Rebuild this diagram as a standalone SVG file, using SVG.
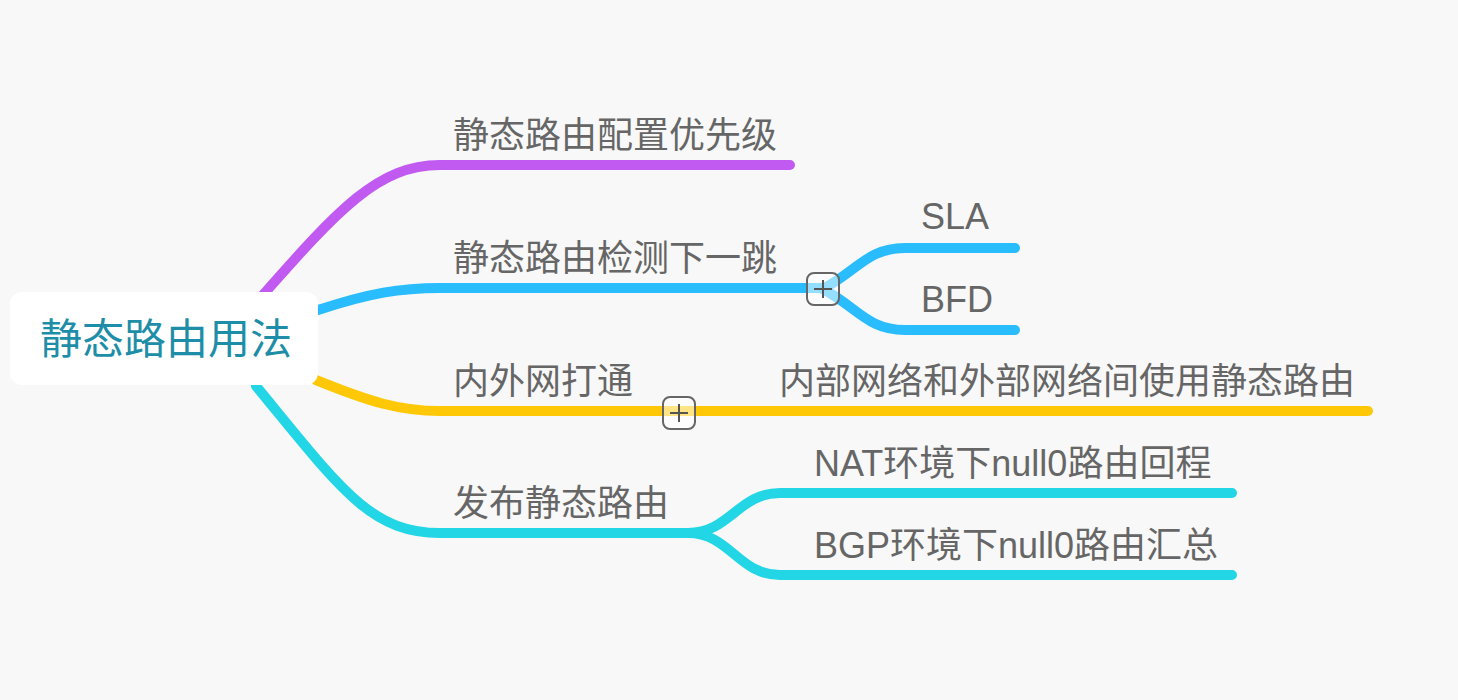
<svg xmlns="http://www.w3.org/2000/svg" width="1458" height="700" viewBox="0 0 1458 700">
<style>
.c{fill:none;stroke-width:10;stroke-linecap:round}
.t{font-family:"Liberation Sans","Noto Sans CJK SC",sans-serif;font-size:36px;fill:#666}
.btn{fill:#ffffff;fill-opacity:0.5;stroke:#666;stroke-width:2}
.plus{stroke:#555;stroke-width:2}
</style>
<rect width="1458" height="700" fill="#f8f8f8"/>
<g id="connectors">
<path class="c" stroke="#c15af1" d="M262 296 C338 210 378 165 440 165 L790 165"/>
<path class="c" stroke="#29bcff" d="M318 310 C370 293 400 288 440 288 L823 288"/>
<path class="c" stroke="#29bcff" d="M823 289 C858 270 868 248 905 248 L1015 248"/>
<path class="c" stroke="#29bcff" d="M823 289 C858 308 868 330 905 330 L1015 330"/>
<path class="c" stroke="#ffc807" d="M316 380 C370 402 400 411 440 411 L1368 411"/>
<path class="c" stroke="#22d6e6" d="M256 386 C340 488 370 533 440 533 L688 533"/>
<path class="c" stroke="#22d6e6" d="M688 533 C730 533 738 493 780 493 L1232 493"/>
<path class="c" stroke="#22d6e6" d="M688 533 C730 533 738 575 780 575 L1232 575"/>
</g>
<g id="root">
<rect x="10" y="292" width="308" height="93" rx="12" fill="#ffffff"/>
<text x="40" y="354" font-family="Liberation Sans,'Noto Sans CJK SC',sans-serif" font-size="42" fill="#1e8ea8">静态路由用法</text>
</g>
<g id="n1"><text class="t" x="453" y="148">静态路由配置优先级</text></g>
<g id="n2"><text class="t" x="453" y="271">静态路由检测下一跳</text>
<rect class="btn" x="807" y="273" width="32" height="32" rx="7"/>
<path class="plus" d="M814 289 H832 M823 280 V298"/></g>
<g id="n21"><text class="t" x="921" y="229">SLA</text></g>
<g id="n22"><text class="t" x="921" y="312">BFD</text></g>
<g id="n3"><text class="t" x="453" y="394">内外网打通</text>
<rect class="btn" x="663" y="397" width="32" height="32" rx="7"/>
<path class="plus" d="M670 413 H688 M679 404 V422"/></g>
<g id="n31"><text class="t" x="779" y="394">内部网络和外部网络间使用静态路由</text></g>
<g id="n4"><text class="t" x="453" y="516">发布静态路由</text></g>
<g id="n41"><text class="t" x="814" y="476">NAT环境下null0路由回程</text></g>
<g id="n42"><text class="t" x="814" y="558">BGP环境下null0路由汇总</text></g>
</svg>
